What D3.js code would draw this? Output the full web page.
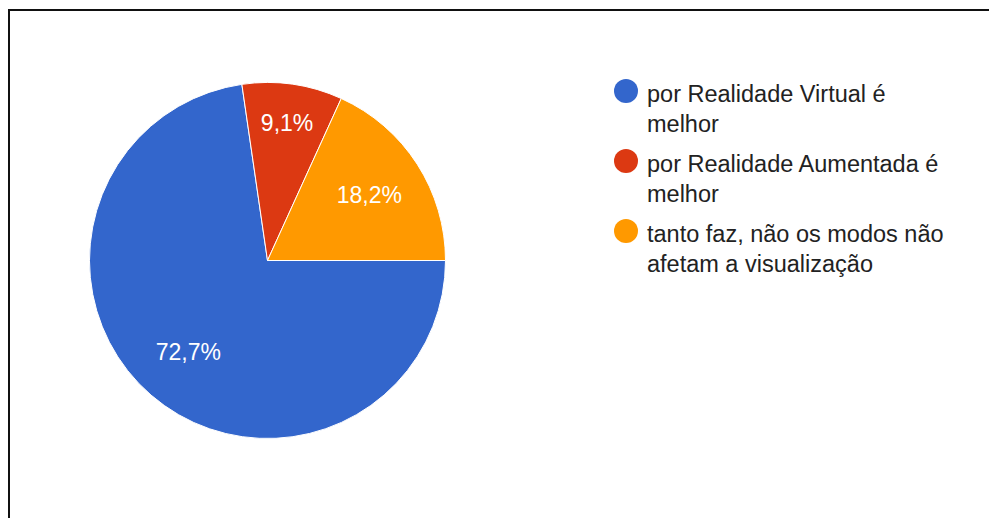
<!DOCTYPE html>
<html>
<head>
<meta charset="utf-8">
<script src="https://cdn.jsdelivr.net/npm/d3@7"></script>
<style>
  html, body { margin: 0; padding: 0; background: #fff; }
  svg { display: block; font-family: "Liberation Sans", Arial, sans-serif; }
</style>
</head>
<body>
<svg id="chart" width="989" height="518"></svg>
<script>
const categories = [
  "por Realidade Virtual é melhor",
  "por Realidade Aumentada é melhor",
  "tanto faz, não os modos não afetam a visualização"
];
const legendLines = [
  ["por Realidade Virtual é", "melhor"],
  ["por Realidade Aumentada é", "melhor"],
  ["tanto faz, não os modos não", "afetam a visualização"]
];
const values = [72.7, 9.1, 18.2];
const valueLabels = ["72,7%", "9,1%", "18,2%"];
const colors = ["#3366cc", "#dc3912", "#ff9900"];

const svg = d3.select("#chart");
const W = 989, H = 518;

// frame (left and top border)
svg.append("path")
  .attr("d", `M9,${H} V10 H${W}`)
  .attr("fill", "none")
  .attr("stroke", "#111")
  .attr("stroke-width", 2);

const cx = 267.5, cy = 260.5, r = 178;

const pie = d3.pie()
  .value(d => d)
  .sort(null)
  .startAngle(Math.PI / 2)
  .endAngle(Math.PI / 2 + 2 * Math.PI);

const arcs = pie(values);
const arc = d3.arc().innerRadius(0).outerRadius(r);

const g = svg.append("g").attr("transform", `translate(${cx},${cy})`);

g.selectAll("path.slice")
  .data(arcs)
  .join("path")
  .attr("class", "slice")
  .attr("d", arc)
  .attr("fill", (d, i) => colors[i])
  .attr("stroke", "#fff")
  .attr("stroke-width", 1);

g.selectAll("text.lbl")
  .data(arcs)
  .join("text")
  .attr("class", "lbl")
  .attr("transform", d => {
    const frac = (d.endAngle - d.startAngle) / (2 * Math.PI);
    const lr = frac < 0.12 ? r * 0.78 : r * 0.68;
    const a = (d.startAngle + d.endAngle) / 2;
    return `translate(${lr * Math.sin(a)},${-lr * Math.cos(a)})`;
  })
  .attr("text-anchor", "middle")
  .attr("dy", "0.36em")
  .attr("fill", "#fff")
  .attr("font-size", 23)
  .text((d, i) => valueLabels[i]);

// legend
const lx = 626, ly0 = 91, step = 70;
const leg = svg.append("g");
categories.forEach((c, i) => {
  const y = ly0 + i * step;
  leg.append("circle")
    .attr("cx", lx)
    .attr("cy", y)
    .attr("r", 12)
    .attr("fill", colors[i]);
  const t = leg.append("text")
    .attr("x", lx + 21)
    .attr("y", y + 11)
    .attr("font-size", 23.5)
    .attr("fill", "#222");
  legendLines[i].forEach((ln, j) => {
    t.append("tspan")
      .attr("x", lx + 21)
      .attr("dy", j === 0 ? 0 : 30)
      .text(ln);
  });
});
</script>
</body>
</html>
